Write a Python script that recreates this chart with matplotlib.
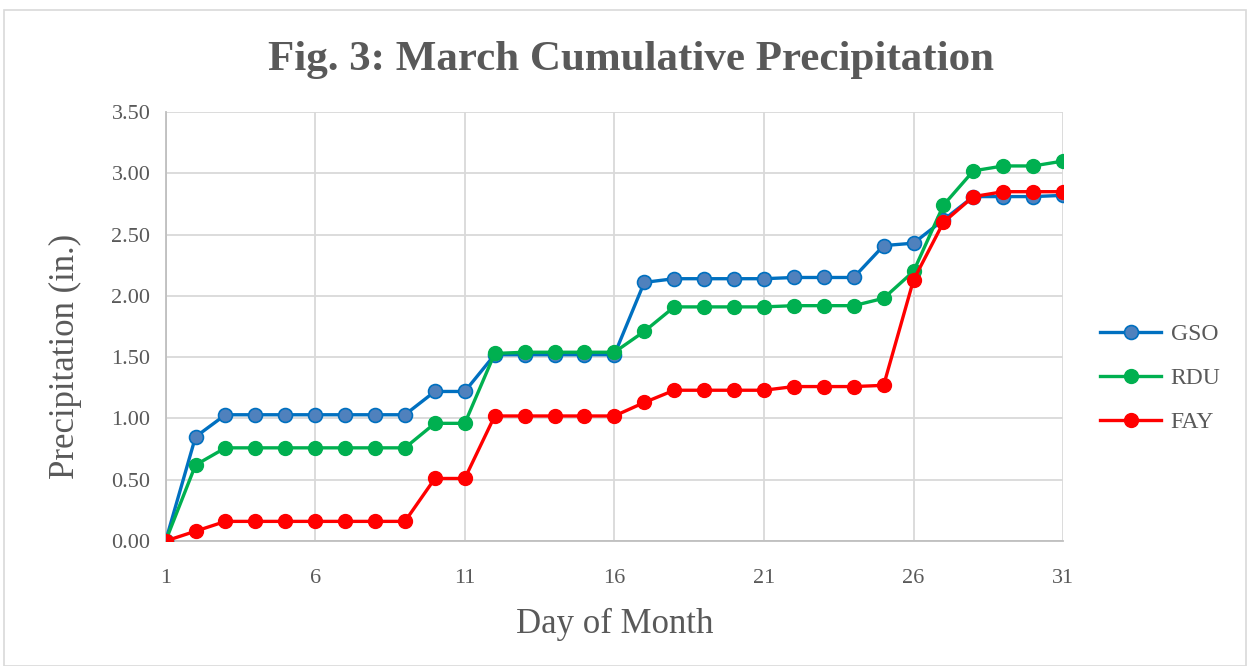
import matplotlib.pyplot as plt
from matplotlib.patches import Rectangle
from matplotlib.ticker import FormatStrFormatter

plt.rcParams['font.family'] = ['Liberation Serif', 'DejaVu Serif']

# ================= DADOS =================
days = list(range(1, 32))
gso = [0.00, 0.85, 1.03, 1.03, 1.03, 1.03, 1.03, 1.03, 1.03, 1.22, 1.22,
       1.52, 1.52, 1.52, 1.52, 1.52, 2.11, 2.14, 2.14, 2.14, 2.14,
       2.15, 2.15, 2.15, 2.41, 2.43, 2.62, 2.81, 2.81, 2.81, 2.82]
rdu = [0.00, 0.62, 0.76, 0.76, 0.76, 0.76, 0.76, 0.76, 0.76, 0.96, 0.96,
       1.53, 1.54, 1.54, 1.54, 1.54, 1.71, 1.91, 1.91, 1.91, 1.91,
       1.92, 1.92, 1.92, 1.98, 2.20, 2.74, 3.02, 3.06, 3.06, 3.10]
fay = [0.00, 0.08, 0.16, 0.16, 0.16, 0.16, 0.16, 0.16, 0.16, 0.51, 0.51,
       1.02, 1.02, 1.02, 1.02, 1.02, 1.13, 1.23, 1.23, 1.23, 1.23,
       1.26, 1.26, 1.26, 1.27, 2.13, 2.60, 2.81, 2.85, 2.85, 2.85]
x_ticks = [1, 6, 11, 16, 21, 26, 31]
y_ticks = [0, 0.5, 1.0, 1.5, 2.0, 2.5, 3.0, 3.5]

TXT = '#595959'

# ================= FIGURA =================
fig = plt.figure(figsize=(12.5, 6.66), dpi=100)
ax = fig.add_axes([0.1325, 0.1877, 0.718, 0.6441])

# borda externa do grafico
fig.patches.append(Rectangle((0.003, 0.0), 0.994, 0.985, transform=fig.transFigure,
                             fill=False, edgecolor='#D9D9D9', linewidth=1.2))

ax.plot(days, gso, color='#0070C0', lw=2.4, marker='o', ms=10,
        markerfacecolor='#4F81BD', markeredgecolor='#0070C0', markeredgewidth=1.2,
        label='GSO', zorder=3)
ax.plot(days, rdu, color='#00B050', lw=2.4, marker='o', ms=10,
        markerfacecolor='#00B050', markeredgecolor='#00B050', label='RDU', zorder=4)
ax.plot(days, fay, color='#FF0000', lw=2.4, marker='o', ms=10,
        markerfacecolor='#FF0000', markeredgecolor='#FF0000', label='FAY', zorder=5)

ax.set_xlim(1, 31)
ax.set_ylim(0, 3.5)
ax.set_xticks(x_ticks)
ax.set_yticks(y_ticks)
ax.yaxis.set_major_formatter(FormatStrFormatter('%.2f'))
ax.tick_params(length=0, labelsize=16, labelcolor=TXT)
ax.tick_params(axis='x', pad=20)
ax.tick_params(axis='y', pad=11)
ax.grid(True, color='#D9D9D9', lw=1.3)
ax.set_axisbelow(True)
for s in ['top', 'right']:
    ax.spines[s].set_visible(False)
for s in ['left', 'bottom']:
    ax.spines[s].set_color('#BFBFBF')
    ax.spines[s].set_linewidth(1.3)
for lbl in ax.get_xticklabels() + ax.get_yticklabels():
    lbl.set_clip_on(False)

ax.set_xlabel('Day of Month', fontsize=25, color=TXT)
ax.set_ylabel('Precipitation (in.)', fontsize=25, color=TXT)
ax.xaxis.set_label_coords(0.5, -0.155)
ax.yaxis.set_label_coords(-0.093, 0.43)
fig.text(0.505, 0.91, 'Fig. 3: March Cumulative Precipitation', ha='center', va='center',
         fontsize=31, fontweight='bold', color=TXT)

leg = ax.legend(loc='center left', bbox_to_anchor=(0.863, 0.432), bbox_transform=fig.transFigure,
                frameon=False, fontsize=17, labelspacing=0.95, handlelength=2.6, handletextpad=0.4)
for t in leg.get_texts():
    t.set_color(TXT)

fig.savefig('out.png', dpi=100)
